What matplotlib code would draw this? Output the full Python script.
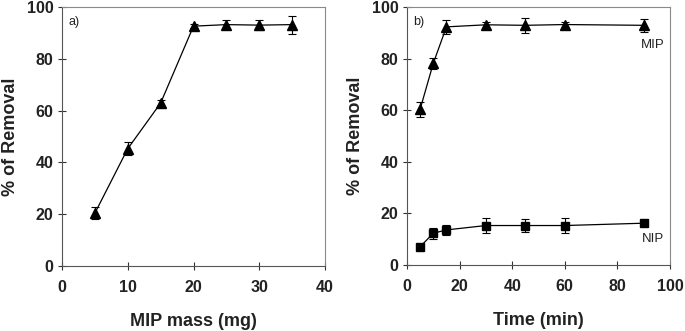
import matplotlib
matplotlib.use("Agg")
import matplotlib.pyplot as plt

plt.rcParams['font.family'] = ['Liberation Sans', 'DejaVu Sans']

mass = [5, 10, 15, 20, 25, 30, 35]
mass_removal = [20.4, 45.3, 62.9, 92.6, 93.2, 93.0, 93.2]
mass_err = [2.2, 2.5, 1.2, 0.7, 1.8, 2.0, 3.5]

time = [5, 10, 15, 30, 45, 60, 90]
mip_removal = [60.4, 78.2, 92.3, 93.1, 92.9, 93.2, 92.9]
mip_err = [2.9, 2.2, 2.8, 1.2, 2.9, 0.8, 2.5]
nip_removal = [7.1, 12.3, 13.6, 15.3, 15.3, 15.3, 16.2]
nip_err = [1.0, 2.2, 2.0, 3.0, 2.5, 2.9, 1.0]

fig = plt.figure(figsize=(6.85, 3.31), dpi=100)
ax1 = fig.add_axes([62/685, 1-266/331, 263/685, 259/331])
ax2 = fig.add_axes([407/685, 1-265/331, 263/685, 258/331])

def style(ax, xlim, xticks, xlabel):
    ax.set_xlim(*xlim)
    ax.set_ylim(0, 100)
    ax.set_xticks(xticks)
    ax.set_yticks(range(0, 101, 20))
    for s in ['top', 'right']:
        ax.spines[s].set_color('#8a8a8a')
        ax.spines[s].set_linewidth(0.8)
    for s in ['left', 'bottom']:
        ax.spines[s].set_color('#555555')
        ax.spines[s].set_linewidth(0.8)
    ax.tick_params(axis='x', direction='inout', length=6, width=0.8, labelsize=11.5, pad=7, color='#333333')
    ax.tick_params(axis='y', direction='inout', length=6, width=0.8, labelsize=11.5, pad=3, color='#333333')
    for lab in ax.get_xticklabels() + ax.get_yticklabels():
        lab.set_fontweight('bold')
        lab.set_color('#222222')
    ax.set_xlabel(xlabel, fontsize=13, fontweight='bold', color='#222222', labelpad=13)
    ax.set_ylabel('% of Removal', fontsize=13, fontweight='bold', color='#222222', labelpad=6)

ax1.errorbar(mass, mass_removal, yerr=mass_err, color='black', marker='^', markersize=6.5,
             linewidth=0.9, elinewidth=0.8, capsize=3, capthick=0.8)
style(ax1, (0, 40), range(0, 41, 10), 'MIP mass (mg)')
ax1.text(0.025, 0.965, 'a)', transform=ax1.transAxes, fontsize=9, va='top', ha='left', color='#222222')

ax2.errorbar(time, mip_removal, yerr=mip_err, color='black', marker='^', markersize=6.5,
             linewidth=0.9, elinewidth=0.8, capsize=3, capthick=0.8)
ax2.errorbar(time, nip_removal, yerr=nip_err, color='black', marker='s', markersize=5.5,
             linewidth=0.9, elinewidth=0.8, capsize=3, capthick=0.8)
style(ax2, (0, 100), range(0, 101, 20), 'Time (min)')
ax2.text(0.025, 0.965, 'b)', transform=ax2.transAxes, fontsize=9, va='top', ha='left', color='#222222')
ax2.text(93.5, 85.3, 'MIP', fontsize=9.5, ha='center', va='center', color='#222222')
ax2.text(93.5, 10, 'NIP', fontsize=9.5, ha='center', va='center', color='#222222')

fig.savefig('out.png', dpi=100)
